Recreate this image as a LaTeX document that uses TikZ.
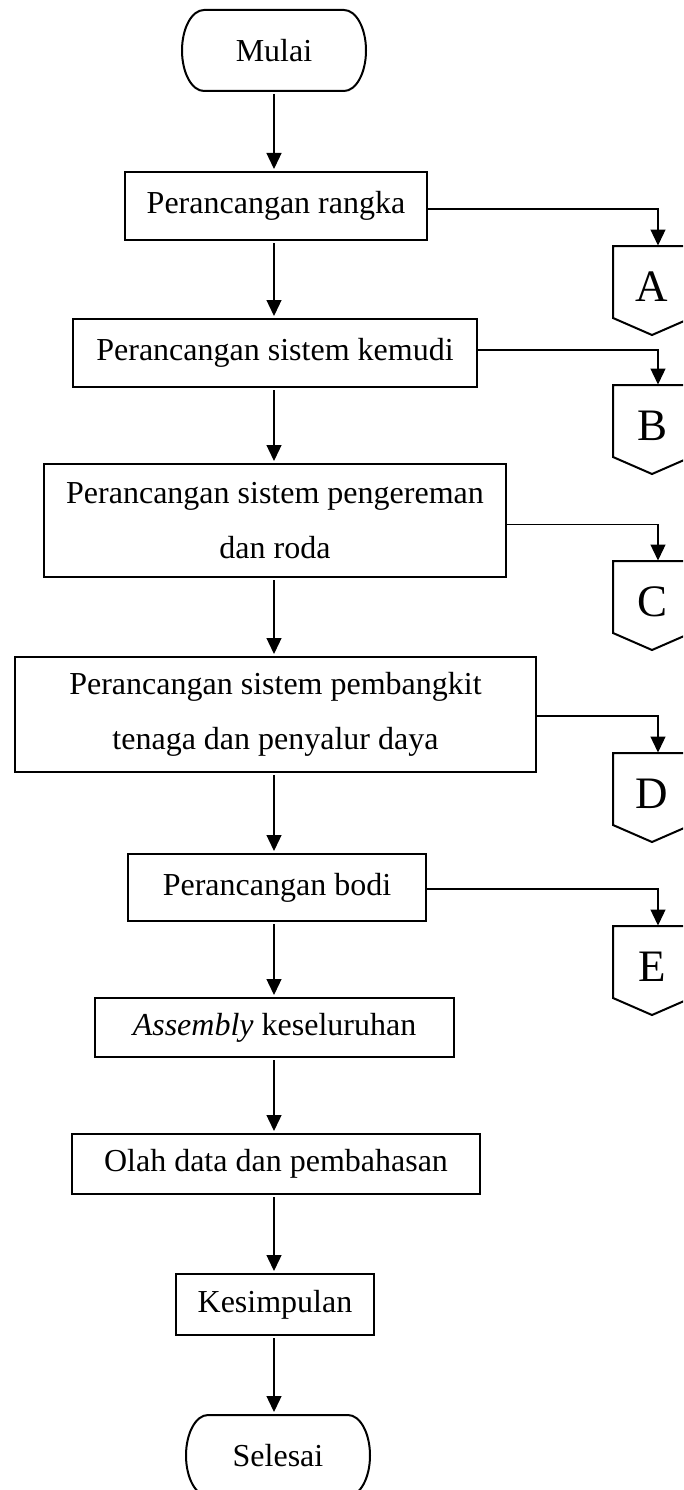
\documentclass[tikz,border=0pt]{standalone}
\usepackage{fontspec}
\setmainfont{Liberation Serif}
\usetikzlibrary{arrows.meta,calc}
\newcommand\offpage[3]{%
  \node[offp] (#1) at (652,-#3) {#2};
  \draw[offline] (#1.north west) -- ++(0,-72) -- ($(#1.north)+(0,-89)$) -- ($(#1.north east)+(0,-72)$) -- (#1.north east) -- cycle;}
\newcommand\termshape[1]{%
  \draw[termline] ($(#1.north west)+(22,0)$) -- ($(#1.north east)+(-22,0)$)
    arc[start angle=90, end angle=-90, x radius=22, y radius=40.5]
    -- ($(#1.south west)+(22,0)$)
    arc[start angle=270, end angle=90, x radius=22, y radius=40.5] -- cycle;}
\begin{document}
\begin{tikzpicture}[x=1pt,y=1pt,
  every node/.style={inner sep=0pt, outer sep=0pt},
  procbox/.style={draw, line width=2.4pt, font=\fontsize{32}{55}\selectfont, align=center},
  term/.style={minimum width=184pt, minimum height=81pt, font=\fontsize{32}{38}\selectfont},
  termline/.style={line width=2pt},
  flow/.style={line width=1.3pt, -{Triangle[length=16pt,width=15pt]}, shorten >=3pt, shorten <=3pt},
  sideflow/.style={line width=1.3pt, -{Triangle[length=16pt,width=15pt]}, shorten >=0.5pt},
  offp/.style={minimum width=78pt, minimum height=82pt, font=\fontsize{45}{50}\selectfont, anchor=north},
  offline/.style={line width=2pt, line join=miter}
]
\useasboundingbox (0,0) rectangle (683,-1490);
\clip (0,0) rectangle (683,-1490);

% terminals and process boxes
\node[term] (start) at (274,-50.5) {Mulai};
\termshape{start}
\node[procbox, minimum width=302pt, minimum height=68pt] (b1) at (276,-206) {Perancangan rangka};
\node[procbox, minimum width=404pt, minimum height=68pt] (b2) at (275,-353) {Perancangan sistem kemudi};
\node[procbox, minimum width=462pt, minimum height=113pt] (b3) at (275,-520.5) {Perancangan sistem pengereman\\dan roda};
\node[procbox, minimum width=521pt, minimum height=115pt] (b4) at (275.5,-714.5) {Perancangan sistem pembangkit\\tenaga dan penyalur daya};
\node[procbox, minimum width=298pt, minimum height=67pt] (b5) at (277,-887.5) {Perancangan bodi};
\node[procbox, minimum width=359pt, minimum height=59pt] (b6) at (274.5,-1027.5) {\textit{Assembly} keseluruhan};
\node[procbox, minimum width=408pt, minimum height=60pt] (b7) at (276,-1164) {Olah data dan pembahasan};
\node[procbox, minimum width=198pt, minimum height=61pt] (b8) at (275,-1304.5) {Kesimpulan};
\node[term] (finish) at (278,-1455.5) {Selesai};
\termshape{finish}

% off-page connectors
\offpage{cA}{A}{246}
\offpage{cB}{B}{385}
\offpage{cC}{C}{561}
\offpage{cD}{D}{753}
\offpage{cE}{E}{926}

% main flow
\draw[flow] (start.south) -- (start.south |- b1.north);
\draw[flow] (b1.south -| start.south) -- (start.south |- b2.north);
\draw[flow] (b2.south -| start.south) -- (start.south |- b3.north);
\draw[flow] (b3.south -| start.south) -- (start.south |- b4.north);
\draw[flow] (b4.south -| start.south) -- (start.south |- b5.north);
\draw[flow] (b5.south -| start.south) -- (start.south |- b6.north);
\draw[flow] (b6.south -| start.south) -- (start.south |- b7.north);
\draw[flow] (b7.south -| start.south) -- (start.south |- b8.north);
\draw[flow] (b8.south -| start.south) -- (start.south |- finish.north);

% side flows to connectors
\draw[sideflow] ([yshift=-3pt]b1.east) -| ([xshift=6pt]cA.north);
\draw[sideflow] ([yshift=3pt]b2.east) -| ([xshift=6pt]cB.north);
\draw[sideflow] ([yshift=-4pt]b3.east) -| ([xshift=6pt]cC.north);
\draw[sideflow] ([yshift=-1.5pt]b4.east) -| ([xshift=6pt]cD.north);
\draw[sideflow] ([yshift=-1.5pt]b5.east) -| ([xshift=6pt]cE.north);
\end{tikzpicture}
\end{document}
